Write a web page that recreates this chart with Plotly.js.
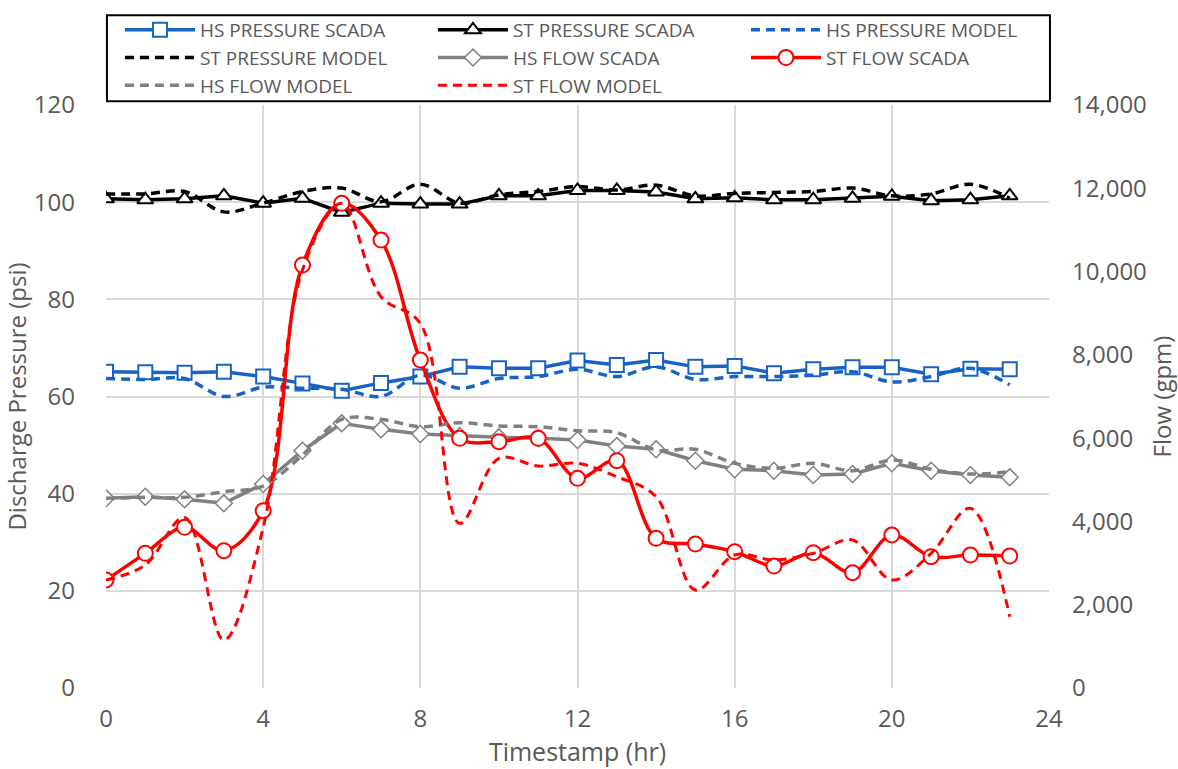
<!DOCTYPE html>
<html>
<head>
<meta charset="utf-8">
<script src="https://cdn.plot.ly/plotly-3.0.1.min.js"></script>
<style>html,body{margin:0;padding:0;background:#fff;}#chart{width:1178px;height:769px;}</style>
</head>
<body>
<div id="chart"></div>
<script>
var hours = [0,1,2,3,4,5,6,7,8,9,10,11,12,13,14,15,16,17,18,19,20,21,22,23];

var hsPressureScada = [65.1,65.0,64.9,65.1,64.1,62.7,61.2,62.8,64.1,66.1,65.8,65.8,67.4,66.5,67.5,66.1,66.3,64.8,65.6,66.0,66.0,64.6,65.7,65.6];
var stPressureScada = [100.7,100.5,100.7,101.3,99.8,100.8,97.9,99.8,99.6,99.6,101.3,101.3,102.4,102.4,102.1,100.7,100.9,100.5,100.5,100.8,101.2,100.3,100.5,101.3];
var hsPressureModel = [63.7,63.5,63.7,60.0,61.9,61.7,61.5,60.0,64.4,61.7,63.7,64.1,65.6,64.1,66.1,63.5,64.1,64.1,64.4,65.1,63.0,64.1,65.8,62.4];
var stPressureModel = [101.7,101.7,102.2,98.0,99.8,102.2,102.9,100.1,103.7,99.8,101.5,102.2,103.2,102.5,103.5,101.3,101.8,102.0,102.2,102.9,101.3,101.7,103.7,100.8];

var hsFlowScada = [4555,4593,4530,4435,4898,5698,6355,6211,6099,6050,6019,5995,5954,5810,5731,5458,5251,5218,5114,5138,5395,5218,5114,5059];
var stFlowScada = [2593,3234,3858,3297,4257,10156,11638,10756,7875,5995,5914,5995,5035,5458,3594,3457,3273,2929,3249,2768,3674,3153,3193,3169];
var hsFlowModel = [4555,4578,4578,4713,4850,5594,6451,6451,6274,6370,6291,6274,6178,6130,5715,5731,5395,5275,5395,5218,5474,5251,5138,5194];
var stFlowModel = [2593,2953,4098,1152,3850,10036,11638,9395,8757,3954,5515,5330,5395,5074,4593,2353,3193,3073,3234,3553,2593,3234,4315,1712];

var xTicks = [0,4,8,12,16,20,24];

var BLUE = '#1763C4', GRAY = '#808080', RED = '#FF0000', BLACK = '#000000';
var DASH = '9px,6px';

var traces = [
  {name:'HS PRESSURE SCADA', x:hours, y:hsPressureScada, yaxis:'y', mode:'lines+markers',
   line:{color:BLUE, width:3.5}, marker:{symbol:'square', size:14, color:'#fff', line:{color:BLUE, width:2}}},
  {name:'ST PRESSURE SCADA', x:hours, y:stPressureScada, yaxis:'y', mode:'lines+markers',
   line:{color:BLACK, width:3.5}, marker:{symbol:'triangle-up', size:14, color:'#fff', line:{color:BLACK, width:2}}},
  {name:'HS PRESSURE MODEL', x:hours, y:hsPressureModel, yaxis:'y', mode:'lines',
   line:{color:BLUE, width:3.5, dash:DASH, shape:'spline', smoothing:1}},
  {name:'ST PRESSURE MODEL', x:hours, y:stPressureModel, yaxis:'y', mode:'lines',
   line:{color:BLACK, width:3.5, dash:DASH, shape:'spline', smoothing:1}},
  {name:'HS FLOW SCADA', x:hours, y:hsFlowScada, yaxis:'y2', mode:'lines+markers',
   line:{color:GRAY, width:3.5}, marker:{symbol:'diamond', size:13, color:'#fff', line:{color:GRAY, width:1.5}}},
  {name:'ST FLOW SCADA', x:hours, y:stFlowScada, yaxis:'y2', mode:'lines+markers',
   line:{color:RED, width:3.5, shape:'spline', smoothing:1}, marker:{symbol:'circle', size:15, color:'#fff', line:{color:RED, width:2}}},
  {name:'HS FLOW MODEL', x:hours, y:hsFlowModel, yaxis:'y2', mode:'lines',
   line:{color:GRAY, width:3.5, dash:DASH, shape:'spline', smoothing:1}},
  {name:'ST FLOW MODEL', x:hours, y:stFlowModel, yaxis:'y2', mode:'lines',
   line:{color:RED, width:3, dash:DASH, shape:'spline', smoothing:1}}
];

var FONT = 'Open Sans, Noto Sans, sans-serif';
var TXT = '#595959';

var layout = {
  width:1178, height:769,
  paper_bgcolor:'#fff', plot_bgcolor:'#fff',
  margin:{l:106, r:129, t:105, b:81, autoexpand:false},
  font:{family:FONT, color:TXT, size:24},
  showlegend:true,
  legend:{
    orientation:'h', x:0.0148, xanchor:'left', y:1.1612, yanchor:'top',
    bgcolor:'rgba(0,0,0,0)', borderwidth:0,
    font:{family:FONT, size:19, color:TXT},
    itemwidth:70, entrywidth:228, entrywidthmode:'pixels',
    traceorder:'normal', tracegroupgap:0
  },
  shapes:[{
    type:'rect', xref:'paper', yref:'paper', layer:'above',
    x0:0.001, x1:1.001, y0:1.0063, y1:1.1539,
    line:{color:'#000', width:2}, fillcolor:'rgba(255,255,255,0)'
  }],
  xaxis:{
    range:[0,24], tickvals:xTicks, ticktext:xTicks.map(String),
    showgrid:true, gridcolor:'#d9d9d9', gridwidth:2,
    zeroline:false, showline:false, ticks:'', ticklabelstandoff:14,
    tickfont:{size:24, color:TXT},
    title:{text:'Timestamp (hr)', font:{size:25, color:TXT}, standoff:8},
    automargin:false
  },
  yaxis:{
    range:[0,120], dtick:20, tick0:0,
    showgrid:true, gridcolor:'#d9d9d9', gridwidth:2,
    zeroline:false, showline:false, ticks:'', ticklabelstandoff:30,
    tickfont:{size:24, color:TXT},
    title:{text:'Discharge Pressure (psi)', font:{size:24, color:TXT}, standoff:0},
    automargin:false
  },
  yaxis2:{
    range:[0,14000], dtick:2000, tick0:0, overlaying:'y', side:'right',
    showgrid:false, zeroline:false, showline:false, ticks:'', ticklabelstandoff:22,
    tickformat:',d', tickfont:{size:24, color:TXT},
    title:{text:'Flow (gpm)', font:{size:24, color:TXT}, standoff:20},
    automargin:false
  }
};

Plotly.newPlot('chart', traces, layout, {displayModeBar:false, staticPlot:true});
</script>
</body>
</html>
